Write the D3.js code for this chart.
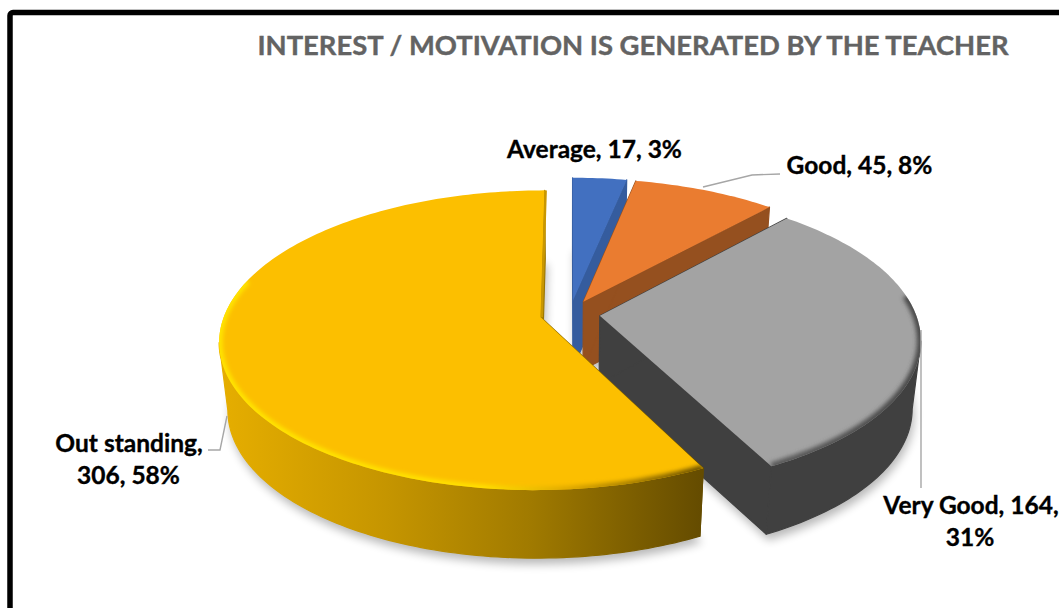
<!DOCTYPE html>
<html><head><meta charset="utf-8">
<script src="https://cdnjs.cloudflare.com/ajax/libs/d3/7.8.5/d3.min.js"></script>
<style>html,body{margin:0;padding:0;background:#fff;overflow:hidden}svg{display:block}text{font-family:Lato,"Open Sans",sans-serif;font-weight:700}</style>
</head><body><svg id="c" width="1059" height="608"></svg>
<script>
const title = "INTEREST / MOTIVATION IS GENERATED BY THE TEACHER";
const categories = ["Average", "Good", "Very Good", "Out standing"];
const values = [17, 45, 164, 306];
const percents = ["3%", "8%", "31%", "58%"];
const topColors = ["#4270c0", "#ea7c30", "#a3a3a3", "#fcbf00"];
const sideColors = ["#355c9e", "#95501f", "#404040", "url(#goldSide)"];

const svg = d3.select("#c");
const defs = svg.append("defs");
const cx = 570, cy = 314, R = 316, q = 0.46, k = 0.153, T = 68, sc = 0.975, explode = 30;

const blur = (id, s) => defs.append("filter").attr("id", id)
  .attr("filterUnits", "userSpaceOnUse").attr("x", 0).attr("y", 0).attr("width", 1059).attr("height", 608)
  .append("feGaussianBlur").attr("stdDeviation", s);
blur("b2", 2.2); blur("b5", 5);

function grad(id, x1, x2, stops) {
  const g = defs.append("linearGradient").attr("id", id).attr("gradientUnits", "userSpaceOnUse")
    .attr("x1", x1).attr("x2", x2).attr("y1", 0).attr("y2", 0);
  stops.forEach(s => g.append("stop").attr("offset", s[0]).attr("stop-color", s[1]));
}
grad("goldSide", 219, 700, [[0, "#e6ae00"], [0.35, "#c59500"], [0.65, "#a07a00"], [1, "#654c00"]]);
grad("goldRim", 219, 700, [[0, "#ffe600"], [0.55, "#ffe000"], [0.72, "#e0aa00"], [1, "#6a5000"]]);
grad("greyRim", 770, 920, [[0, "#5a5a5a"], [1, "#484848"]]);

const arcs = d3.pie().sort(null).value(d => d)(values);
const line = d3.line();

function project(a, r, mid) {
  const x = explode * Math.sin(mid) + r * Math.sin(a);
  const z = -explode * Math.cos(mid) - r * Math.cos(a);
  const w = 1 - k * z / R;
  return [cx + x / w, cy + q * z / w];
}
const lower = p => [cx + (p[0] - cx) * sc, p[1] + T];
function arcPts(a0, a1, mid) {
  const n = Math.max(2, Math.ceil((a1 - a0) / 0.02));
  return d3.range(n + 1).map(i => project(a0 + (a1 - a0) * i / n, R, mid));
}
const deg = d => d * Math.PI / 180;
const TAU = 2 * Math.PI;
// angles at which the rim reaches its far right and far left: the wall faces the viewer between them
function frontRange(mid) {
  const as = d3.range(0, 1440).map(i => i / 1440 * TAU);
  const xs = as.map(a => project(a, R, mid)[0]);
  return [as[d3.maxIndex(xs)], as[d3.minIndex(xs)]];
}

const shadowG = svg.append("g");
const sliceG = svg.append("g");

arcs.forEach((d, i) => {
  const mid = (d.startAngle + d.endAngle) / 2;
  const apex = project(0, 0, mid);
  const rim = arcPts(d.startAngle, d.endAngle, mid);
  const first = rim[0], last = rim[rim.length - 1];
  const topPath = line([apex, ...rim]) + "Z";
  const g = sliceG.append("g");
  const clipId = "clip" + i;
  defs.append("clipPath").attr("id", clipId).append("path").attr("d", topPath);

  // soft shadow
  const sil = [apex, ...rim].map(lower).map(p => [p[0] + 2, p[1] + 6]);
  shadowG.append("path").attr("d", line(sil) + "Z").attr("fill", "#000").attr("opacity", 0.28).attr("filter", "url(#b5)");

  // walls
  const [fr0, fr1] = frontRange(mid);
  const a0 = Math.max(d.startAngle, fr0), a1 = Math.min(d.endAngle, fr1);
  const wall = line([apex, first, lower(first), lower(apex)]) + "Z" + line([apex, last, lower(last), lower(apex)]) + "Z";
  const wallsEl = g.append("g").attr("fill", sideColors[i]).attr("stroke", sideColors[i]).attr("stroke-width", 1.2).attr("stroke-linejoin", "round");
  wallsEl.append("path").attr("d", wall);
  if (a1 > a0) {
    const front = arcPts(a0, a1, mid);
    wallsEl.append("path").attr("d", line([...front, ...front.slice().reverse().map(lower)]) + "Z");
  }
  // top
  g.append("path").attr("d", topPath).attr("fill", topColors[i]);

  // bevel
  const clipped = g.append("g").attr("clip-path", `url(#${clipId})`);
  if (i === 3) {
    clipped.append("path").attr("d", line(arcPts(d.startAngle, deg(285), mid)))
      .attr("fill", "none").attr("stroke", "url(#goldRim)").attr("stroke-width", 7).attr("filter", "url(#b2)");
    g.append("path").attr("d", line([[last[0] + 1, last[1]], [apex[0] + 1, apex[1]]]))
      .attr("stroke", "#c99700").attr("stroke-width", 2.5).attr("fill", "none");
  }
  if (i === 2) {
    clipped.append("path").attr("d", line(arcPts(deg(82), d.endAngle, mid)))
      .attr("fill", "none").attr("stroke", "url(#greyRim)").attr("stroke-width", 8).attr("filter", "url(#b2)");
  }
});

// leader lines
const leaders = [
  [[703, 187], [752, 175], [780, 174]],
  [[921, 330], [921, 488]],
  [[227, 416], [220, 450], [208, 450]]
];
svg.append("g").selectAll("path").data(leaders).join("path")
  .attr("d", d => line(d)).attr("fill", "none").attr("stroke", "#a6a6a6").attr("stroke-width", 1.4);

// frame
svg.append("rect").attr("x", 10).attr("y", 12.5).attr("width", 1300).attr("height", 900).attr("rx", 3)
  .attr("fill", "none").attr("stroke", "#000").attr("stroke-width", 5.5);

// title
svg.append("text").attr("x", 633).attr("y", 55).attr("text-anchor", "middle")
  .attr("font-size", 27.4).attr("fill", "#636363").attr("stroke", "#636363").attr("stroke-width", 0.4).text(title);

// labels
const labelFont = 24.5;
const L = i => `${categories[i]}, ${values[i]}, ${percents[i]}`;
const addText = (t, x, y) => svg.append("text").attr("x", x).attr("y", y).attr("text-anchor", "middle")
  .attr("font-size", labelFont).attr("fill", "#000").attr("stroke", "#000").attr("stroke-width", 0.35).text(t);
addText(L(0), 594.5, 158);
addText(L(1), 859.5, 174);
addText(`${categories[2]}, ${values[2]},`, 971, 514);
addText(percents[2], 970, 546);
addText(`${categories[3]},`, 129, 452);
addText(`${values[3]}, ${percents[3]}`, 128.5, 484);
</script></body></html>
